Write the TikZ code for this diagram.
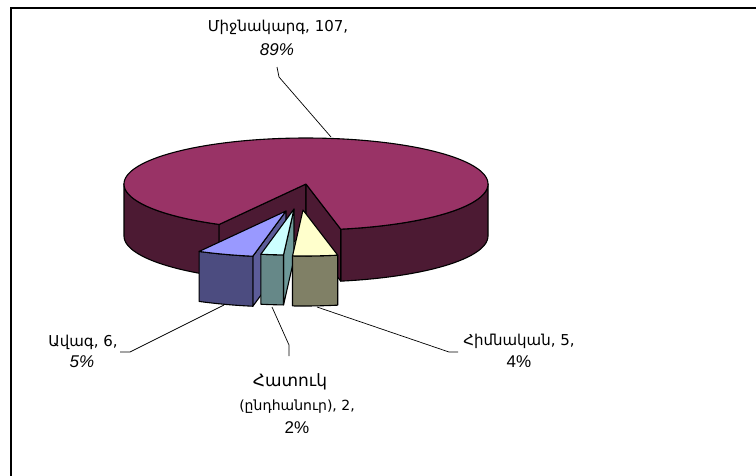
\documentclass[tikz,border=0pt]{standalone}
\usepackage{fontspec}
\setmainfont{Liberation Sans}
\newfontfamily\arm{DejaVu Sans}
\definecolor{ptop}{HTML}{993366}
\definecolor{pside}{HTML}{4C1A33}
\definecolor{btop}{HTML}{9999FF}
\definecolor{bfront}{HTML}{4C4C80}
\definecolor{bside}{HTML}{5C5C99}
\definecolor{ctop}{HTML}{CCFFFF}
\definecolor{cfront}{HTML}{668888}
\definecolor{cside}{HTML}{6E9999}
\definecolor{ytop}{HTML}{FFFFCC}
\definecolor{yfront}{HTML}{808066}
\tikzset{
  face/.style={draw=black, line width=1.1pt, line join=round},
  leader/.style={draw=black, line width=0.7pt},
  lbl/.style={inner sep=0pt, font=\arm\fontsize{15}{17}\selectfont},
  pct/.style={inner sep=0pt, font=\fontsize{17}{19}\selectfont},
}
\def\pcx{306}\def\pcy{184}\def\prx{182}\def\pry{46}\def\pdep{52}\def\sdep{50}
% slice body: #1 start angle (right), #2 end angle (left), #3 front col, #4 top col
\newcommand\slicebody[4]{%
  \filldraw[face, fill=#3] plot[domain=#1:#2, samples=20] ({\pcx+\prx*cos(\x)},{\pcy+\pry*sin(\x)})
     -- plot[domain=#2:#1, samples=20] ({\pcx+\prx*cos(\x)},{\pcy+\sdep+\pry*sin(\x)}) -- cycle;
  \filldraw[face, fill=#4] (\pcx,\pcy) -- plot[domain=#1:#2, samples=20] ({\pcx+\prx*cos(\x)},{\pcy+\pry*sin(\x)}) -- cycle;
}
\newcommand\sliceside[2]{%
  \filldraw[face, fill=#2] (\pcx,\pcy) -- ({\pcx+\prx*cos(#1)},{\pcy+\pry*sin(#1)}) -- ++(0,\sdep) -- (\pcx,\pcy+\sdep) -- cycle;
}
\begin{document}
\begin{tikzpicture}[x=1pt,y=-1pt]
\useasboundingbox (0,0) rectangle (756,475);
\fill[white] (0,0) rectangle (756,475);
\draw[line width=1.6pt] (11,480) -- (11,8) -- (760,8);

% main slice sides
\filldraw[face, fill=pside] plot[domain=118.5:180, samples=30] ({\pcx+\prx*cos(\x)},{\pcy+\pry*sin(\x)})
   -- plot[domain=180:118.5, samples=30] ({\pcx+\prx*cos(\x)},{\pcy+\pdep+\pry*sin(\x)}) -- cycle;
\filldraw[face, fill=pside] plot[domain=0:79, samples=30] ({\pcx+\prx*cos(\x)},{\pcy+\pry*sin(\x)})
   -- plot[domain=79:0, samples=30] ({\pcx+\prx*cos(\x)},{\pcy+\pdep+\pry*sin(\x)}) -- cycle;
% cut faces
\filldraw[face, fill=pside] (\pcx,\pcy) -- ({\pcx+\prx*cos(118.5)},{\pcy+\pry*sin(118.5)}) -- ++(0,\pdep) -- (\pcx,\pcy+\pdep) -- cycle;
\filldraw[face, fill=pside] (\pcx,\pcy) -- ({\pcx+\prx*cos(79)},{\pcy+\pry*sin(79)}) -- ++(0,\pdep) -- (\pcx,\pcy+\pdep) -- cycle;
% top
\filldraw[face, fill=ptop] (\pcx,\pcy) -- plot[domain=118.5:439, samples=160] ({\pcx+\prx*cos(\x)},{\pcy+\pry*sin(\x)}) -- cycle;

% exploded slices
\begin{scope}[shift={(-20,27)}]
  \sliceside{100.5}{bside}
  \slicebody{100.5}{118.5}{bfront}{btop}
\end{scope}
\begin{scope}[shift={(-12,25)}]
  \sliceside{93.3}{cside}
  \slicebody{93.3}{100.5}{cfront}{ctop}
\end{scope}
\begin{scope}[shift={(-3,26)}]
  \slicebody{79}{93.3}{yfront}{ytop}
\end{scope}

% labels
\node[lbl] (t1) at (278,27) {Միջնակարգ, 107,};
\node[pct, font=\itshape\fontsize{17}{19}\selectfont] (t2) at (277,50) {89\%};
\node[lbl] (a1) at (83,342) {Ավագ, 6,};
\node[pct, font=\itshape\fontsize{17}{19}\selectfont] (a2) at (82,362) {5\%};
\node[lbl, font=\arm\fontsize{17}{19}\selectfont] (h1) at (290,382) {Հատուկ};
\node[lbl, font=\arm\fontsize{14}{16}\selectfont] (h2) at (297,407) {(ընդհանուր), 2,};
\node[pct] (h3) at (297,428) {2\%};
\node[lbl] (m1) at (519,341) {Հիմնական, 5,};
\node[pct] (m2) at (519,362) {4\%};

% leaders
\coordinate (tA) at (277,67); \coordinate (tB) at (279,77); \coordinate (tC) at (331,137);
\draw[leader] (tA) -- (tB) -- (tC);
\coordinate (aA) at (120,352); \coordinate (aB) at (130,352); \coordinate (aC) at (224,305);
\draw[leader] (aA) -- (aB) -- (aC);
\coordinate (hA) at (289,356); \coordinate (hB) at (289,345); \coordinate (hC) at (272,307);
\draw[leader] (hA) -- (hB) -- (hC);
\coordinate (mA) at (458,352); \coordinate (mB) at (449,352); \coordinate (mC) at (317,307);
\draw[leader] (mA) -- (mB) -- (mC);
\end{tikzpicture}
\end{document}
